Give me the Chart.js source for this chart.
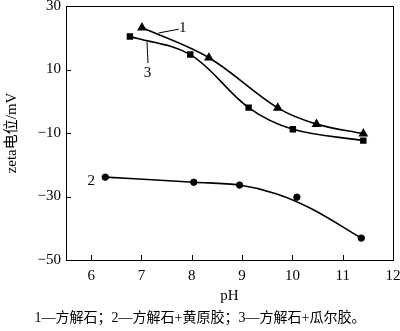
<!DOCTYPE html>
<html lang="zh">
<head>
  <meta charset="UTF-8">
  <title>zeta potential vs pH</title>
  <script src="https://cdn.jsdelivr.net/npm/chart.js"></script>
  <style>
    body { margin: 0; background: #fff; }
    .wrap { position: relative; width: 400px; height: 331px; }
    .caption {
      position: absolute; left: 0; width: 400px; top: 310px;
      text-align: center; font: 14px "Liberation Serif", "Noto Sans CJK SC", serif;
      line-height: 16px; color: #000;
    }
  </style>
</head>
<body>
  <div class="wrap">
    <canvas id="myChart"></canvas>
    <div class="caption">1—方解石；2—方解石+黄原胶；3—方解石+瓜尔胶。</div>
  </div>

  <script>
    // values
    const ph1 = [7.01, 8.34, 9.71, 10.48, 11.41];
    const zeta1 = [23.2, 13.7, -2.1, -7.2, -10.2];
    const ph2 = [6.28, 8.04, 8.95, 10.09, 11.37];
    const zeta2 = [-23.9, -25.5, -26.4, -30.2, -43.1];
    const ph3 = [6.77, 7.97, 9.13, 10.01, 11.41];
    const zeta3 = [20.4, 14.7, -2.0, -8.8, -12.4];
    // fitted curve for series 2 (does not hit every point)
    const curve2Ph = [6.28, 8.04, 8.95, 9.69, 10.36, 11.37];
    const curve2Zeta = [-23.9, -25.5, -26.4, -29.2, -33.7, -43.1];
    const xTicks = [6, 7, 8, 9, 10, 11, 12];
    const yTicks = [30, 10, -10, -30, -50];

    // curve labels with leader lines (data units)
    const curveLabels = [
      { text: '1', x: 7.82, y: 22.9, from: [7.34, 21.5], to: [7.74, 22.7] },
      { text: '3', x: 7.12, y: 9.0, from: [7.11, 18.8], to: [7.13, 12.0] },
      { text: '2', x: 6.0, y: -25.1 }
    ];

    const pts = (xs, ys) => xs.map((x, i) => ({ x: x, y: ys[i] }));
    const serif = '"Liberation Serif", "Noto Sans CJK SC", serif';

    const frame = {
      id: 'frame',
      afterDraw(chart) {
        const { ctx, chartArea: a, scales } = chart;
        ctx.save();
        ctx.strokeStyle = '#000';
        ctx.lineWidth = 1;
        ctx.strokeRect(a.left + 0.5, a.top + 0.5, a.right - a.left, a.bottom - a.top);
        ctx.beginPath();
        xTicks.forEach(v => {
          const px = Math.round(scales.x.getPixelForValue(v)) + 0.5;
          ctx.moveTo(px, a.bottom);
          ctx.lineTo(px, a.bottom - 5);
        });
        yTicks.forEach(v => {
          const py = Math.round(scales.y.getPixelForValue(v)) + 0.5;
          ctx.moveTo(a.left, py);
          ctx.lineTo(a.left + 5, py);
        });
        ctx.stroke();

        ctx.fillStyle = '#000';
        ctx.font = '15px ' + serif;
        ctx.textAlign = 'center';
        ctx.textBaseline = 'middle';
        curveLabels.forEach(l => {
          if (l.from) {
            ctx.beginPath();
            ctx.moveTo(scales.x.getPixelForValue(l.from[0]), scales.y.getPixelForValue(l.from[1]));
            ctx.lineTo(scales.x.getPixelForValue(l.to[0]), scales.y.getPixelForValue(l.to[1]));
            ctx.stroke();
          }
          ctx.fillText(l.text, scales.x.getPixelForValue(l.x), scales.y.getPixelForValue(l.y));
        });
        ctx.restore();
      }
    };

    const ctx = document.getElementById('myChart');
    const mychart = new Chart(ctx, {
      type: 'scatter',
      data: {
        datasets: [
          {
            data: pts(ph1, zeta1),
            showLine: true, tension: 0.35,
            borderColor: '#000', borderWidth: 1.6,
            pointStyle: 'triangle', pointRadius: 4,
            backgroundColor: '#000', pointBorderColor: '#000'
          },
          {
            data: pts(ph3, zeta3),
            showLine: true, tension: 0.35,
            borderColor: '#000', borderWidth: 1.6,
            pointStyle: 'rect', pointRadius: 3.4,
            backgroundColor: '#000', pointBorderColor: '#000'
          },
          {
            data: pts(curve2Ph, curve2Zeta),
            showLine: true, cubicInterpolationMode: 'monotone',
            borderColor: '#000', borderWidth: 1.6,
            pointRadius: 0
          },
          {
            data: pts(ph2, zeta2),
            showLine: false,
            pointStyle: 'circle', pointRadius: 3.2,
            backgroundColor: '#000', pointBorderColor: '#000'
          }
        ]
      },
      options: {
        responsive: true,
        maintainAspectRatio: false,
        animation: false,
        layout: { padding: { top: 6, right: 7, left: 0, bottom: 26 } },
        scales: {
          x: {
            type: 'linear', min: 5.5, max: 12,
            afterBuildTicks: s => { s.ticks = xTicks.map(v => ({ value: v })); },
            afterFit: s => { s.height = 45; s.paddingLeft = 0; s.paddingRight = 0; },
            grid: { display: false, drawTicks: false },
            border: { display: false },
            ticks: { color: '#000', font: { family: serif, size: 15 }, padding: 7 },
            title: { display: true, text: 'pH', color: '#000', font: { family: serif, size: 15 }, padding: 0 }
          },
          y: {
            min: -50, max: 30,
            afterBuildTicks: s => { s.ticks = yTicks.map(v => ({ value: v })); },
            afterFit: s => { s.width = 66; s.paddingTop = 0; s.paddingBottom = 0; },
            grid: { display: false, drawTicks: false },
            border: { display: false },
            ticks: {
              color: '#000', font: { family: serif, size: 15 }, padding: 5,
              callback: v => String(v).replace('-', '\u2212')
            },
            title: { display: true, text: 'zeta电位/mV', color: '#000', font: { family: serif, size: 15 }, padding: { top: 3, bottom: 0 } }
          }
        },
        plugins: {
          legend: { display: false },
          tooltip: { enabled: false }
        }
      },
      plugins: [frame]
    });
  </script>
</body>
</html>
